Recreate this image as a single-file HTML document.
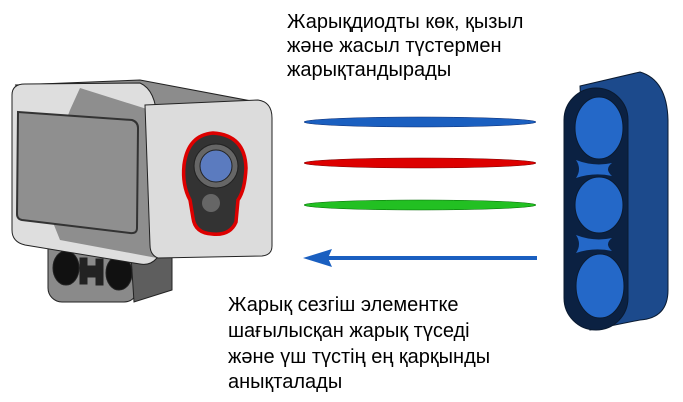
<!DOCTYPE html>
<html><head><meta charset="utf-8"><style>
html,body{margin:0;padding:0;background:#fff;width:683px;height:402px;overflow:hidden}
svg{display:block}
text{font-family:"Liberation Sans",sans-serif;font-size:20px;fill:#000}
</style></head><body>
<svg width="683" height="402" viewBox="0 0 683 402">
<g stroke="#222" stroke-width="1">
 <rect x="48" y="236" width="90" height="66" rx="14" fill="#8a8a8a"/>
 <polygon points="130,240 172,240 172,290 134,302" fill="#5e5e5e"/>
 <ellipse cx="66" cy="268" rx="13" ry="17" fill="#111"/>
 <ellipse cx="119" cy="273" rx="13" ry="17" fill="#111"/>
 <path d="M80,258 h7 v8 h9 v-7 h7 v26 h-7 v-8 h-9 v7 h-7z" fill="#222"/>
 <polygon points="15,85 140,80 262,103 150,112" fill="#8c8c8c"/>
 <path d="M12,95 Q12,84 25,84 L140,83 Q156,90 157,120 L157,258 Q150,266 140,264 L25,245 Q12,242 12,230 Z" fill="#dedede"/>
 <polygon points="80,88 150,110 157,258 60,240 40,190 70,110" fill="#8e8e8e" stroke="none"/>
 <path d="M18,112 L132,120 Q138,122 138,128 L137,228 Q137,234 130,233 L22,220 Q17,219 17,214 Z" fill="#8f8f8f" stroke="#333" stroke-width="2"/>
 <path d="M145,105 L258,100 Q272,102 272,118 L272,246 Q272,255 262,256 L158,258 Q150,255 150,245 Z" fill="#dcdcdc"/>
 <path d="M213,133 Q245,135 246,168 Q245,190 238,200 L236,222 Q230,236 212,234 Q195,233 193,218 L190,200 Q182,185 184,165 Q188,135 213,133 Z" fill="#333" stroke="#d00" stroke-width="3.5"/>
 <circle cx="216" cy="166" r="22" fill="#666" stroke="#222"/>
 <circle cx="216" cy="166" r="16" fill="#5b7bbf" stroke="#222"/>
 <circle cx="211" cy="203" r="9" fill="#666" stroke="none"/>
</g>
<g>
 <ellipse cx="420" cy="122" rx="116" ry="5" fill="#1a5fc0" stroke="#0a2a70" stroke-width="0.5"/>
 <ellipse cx="420" cy="163" rx="116" ry="5" fill="#dd0000" stroke="#700" stroke-width="0.5"/>
 <ellipse cx="420" cy="205" rx="116" ry="5" fill="#22c022" stroke="#060" stroke-width="0.5"/>
</g>
<g>
 <line x1="537" y1="258" x2="325" y2="258" stroke="#1a5fc0" stroke-width="4"/>
 <polygon points="303,258 332,249 328,258 332,267" fill="#1a5fc0"/>
</g>
<g stroke="#0a1a30" stroke-width="1">
 <path d="M580,86 L640,72 Q667,80 668,120 L668,290 Q668,318 640,320 L590,330 Z" fill="#1c4a8c"/>
 <rect x="564" y="88" width="64" height="242" rx="32" fill="#0b2142"/>
 <ellipse cx="599" cy="128" rx="24" ry="31" fill="#2468c8"/>
 <ellipse cx="599" cy="205" rx="24" ry="28" fill="#2468c8"/>
 <ellipse cx="600" cy="286" rx="24" ry="32" fill="#2468c8"/>
 <path d="M576,160 Q594,167 612,163 Q604,169 612,176 Q594,172 576,178 Q582,169 576,160 Z" fill="#2468c8" stroke="none"/>
 <path d="M576,235 Q594,242 612,238 Q604,244 612,251 Q594,247 576,253 Q582,244 576,235 Z" fill="#2468c8" stroke="none"/>
</g>
<text x="287" y="28">Жарықдиодты көк, қызыл</text>
<text x="287" y="52">және жасыл түстермен</text>
<text x="287" y="76">жарықтандырады</text>
<text x="228" y="311">Жарық сезгіш элементке</text>
<text x="228" y="337">шағылысқан жарық түседі</text>
<text x="228" y="363">және үш түстің ең қарқынды</text>
<text x="228" y="388">анықталады</text>
</svg>
</body></html>
